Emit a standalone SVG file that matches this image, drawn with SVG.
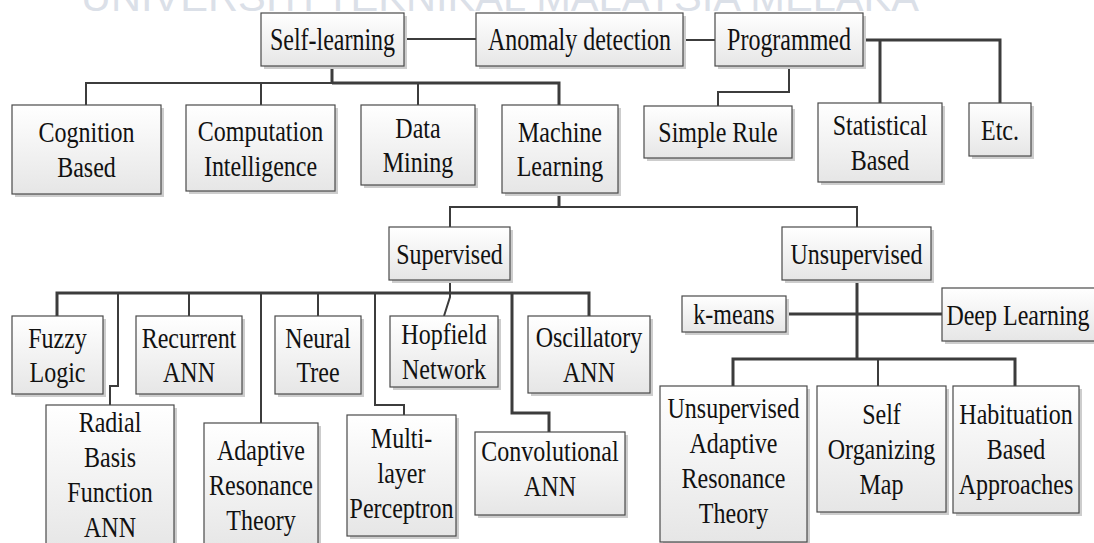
<svg xmlns="http://www.w3.org/2000/svg" width="1094" height="543" viewBox="0 0 1094 543">
<defs>
<linearGradient id="g" x1="0" y1="0" x2="0" y2="1">
<stop offset="0" stop-color="#ffffff"/>
<stop offset="1" stop-color="#e6e6e6"/>
</linearGradient>
</defs>
<style>
.b{fill:url(#g);stroke:#4a4a4a;stroke-width:1.2}
.s{fill:#cdcdcd}
.t{font-family:"Liberation Serif","Times New Roman",serif;font-size:30px;text-anchor:middle;fill:#111}
.h{font-size:32px}
.c{fill:none;stroke:#3c3c3c;stroke-width:2;stroke-linejoin:miter}
.k{fill:none;stroke:#3c3c3c;stroke-width:3;stroke-linejoin:miter}
.w{font-family:"Liberation Sans",Arial,sans-serif;font-size:40px;fill:#dbe0e8}
</style>
<rect width="1094" height="543" fill="#ffffff"/>
<text class="w" x="81" y="11" textLength="838" lengthAdjust="spacingAndGlyphs">UNIVERSITI TEKNIKAL MALAYSIA MELAKA</text>

<g id="connectors">
<path class="c" d="M404,39 H476"/>
<path class="c" d="M683,40 H715"/>
<path class="k" d="M863,40 H1000 V103"/>
<path class="k" d="M880,40 V103"/>
<path class="c" d="M789,66 V92 H718 V106"/>
<path class="k" d="M332,66 V83"/>
<path class="c" d="M86,105 V83 H332"/>
<path class="k" d="M332,83 H559 V105"/>
<path class="c" d="M261,83 V105"/>
<path class="c" d="M418,83 V105"/>
<path class="k" d="M559,193 V207"/>
<path class="c" d="M450,227 V207 H857 V227"/>
<path class="c" d="M450,280 V293"/>
<path class="k" d="M57,316 V293 H589 V316"/>
<path class="c" d="M189,293 V316"/>
<path class="c" d="M318,293 V316"/>
<path class="c" d="M118,293 V386 H110 V405"/>
<path class="c" d="M261,293 V423"/>
<path class="c" d="M375,293 V405 H404 V415"/>
<path class="c" d="M450,293 V297 L444,316"/>
<path class="k" d="M512,293 V413 H549 V432"/>
<path class="k" d="M857,280 V359"/>
<path class="k" d="M733,386 V359 H1015 V386"/>
<path class="c" d="M878,359 V386"/>
<path class="k" d="M786,314 H942"/>
</g>

<g id="self_learning"><rect class="s" x="264" y="16" width="143" height="53"/><rect class="b" x="261" y="13" width="143" height="53"/><text class="t h" transform="translate(332.5,50) scale(0.75,1)">Self-learning</text></g>
<g id="anomaly_detection"><rect class="s" x="479" y="16" width="207" height="53"/><rect class="b" x="476" y="13" width="207" height="53"/><text class="t h" transform="translate(579.5,50) scale(0.75,1)">Anomaly detection</text></g>
<g id="programmed"><rect class="s" x="718" y="16" width="148" height="53"/><rect class="b" x="715" y="13" width="148" height="53"/><text class="t h" transform="translate(789,50) scale(0.75,1)">Programmed</text></g>

<g id="cognition_based"><rect class="s" x="15" y="108" width="149" height="89"/><rect class="b" x="12" y="105" width="149" height="89"/><text class="t" transform="translate(86.5,142) scale(0.8,1)"><tspan x="0">Cognition</tspan><tspan x="0" dy="35">Based</tspan></text></g>
<g id="computation_intelligence"><rect class="s" x="189" y="108" width="149" height="86"/><rect class="b" x="186" y="105" width="149" height="86"/><text class="t" transform="translate(260.5,141) scale(0.8,1)"><tspan x="0">Computation</tspan><tspan x="0" dy="35">Intelligence</tspan></text></g>
<g id="data_mining"><rect class="s" x="364" y="108" width="114" height="80"/><rect class="b" x="361" y="105" width="114" height="80"/><text class="t" transform="translate(418,137.5) scale(0.8,1)"><tspan x="0">Data</tspan><tspan x="0" dy="35">Mining</tspan></text></g>
<g id="machine_learning"><rect class="s" x="505" y="108" width="116" height="88"/><rect class="b" x="502" y="105" width="116" height="88"/><text class="t" transform="translate(560,141.5) scale(0.8,1)"><tspan x="0">Machine</tspan><tspan x="0" dy="35">Learning</tspan></text></g>
<g id="simple_rule"><rect class="s" x="647" y="109" width="148" height="52"/><rect class="b" x="644" y="106" width="148" height="52"/><text class="t" transform="translate(718,142) scale(0.8,1)">Simple Rule</text></g>
<g id="statistical_based"><rect class="s" x="821" y="106" width="124" height="79"/><rect class="b" x="818" y="103" width="124" height="79"/><text class="t" transform="translate(880,135) scale(0.8,1)"><tspan x="0">Statistical</tspan><tspan x="0" dy="35">Based</tspan></text></g>
<g id="etc"><rect class="s" x="972" y="106" width="62" height="53"/><rect class="b" x="969" y="103" width="62" height="53"/><text class="t" transform="translate(1000,139.5) scale(0.8,1)">Etc.</text></g>

<g id="supervised"><rect class="s" x="392" y="230" width="121" height="53"/><rect class="b" x="389" y="227" width="121" height="53"/><text class="t" transform="translate(449.5,263.5) scale(0.8,1)">Supervised</text></g>
<g id="unsupervised"><rect class="s" x="785" y="230" width="149" height="53"/><rect class="b" x="782" y="227" width="149" height="53"/><text class="t" transform="translate(856.5,263.5) scale(0.8,1)">Unsupervised</text></g>

<g id="fuzzy_logic"><rect class="s" x="15" y="319" width="91" height="78"/><rect class="b" x="12" y="316" width="91" height="78"/><text class="t" transform="translate(57.5,347.5) scale(0.8,1)"><tspan x="0">Fuzzy</tspan><tspan x="0" dy="35">Logic</tspan></text></g>
<g id="recurrent_ann"><rect class="s" x="139" y="319" width="106" height="78"/><rect class="b" x="136" y="316" width="106" height="78"/><text class="t" transform="translate(189,347.5) scale(0.8,1)"><tspan x="0">Recurrent</tspan><tspan x="0" dy="35">ANN</tspan></text></g>
<g id="neural_tree"><rect class="s" x="278" y="319" width="86" height="78"/><rect class="b" x="275" y="316" width="86" height="78"/><text class="t" transform="translate(318,347.5) scale(0.8,1)"><tspan x="0">Neural</tspan><tspan x="0" dy="35">Tree</tspan></text></g>
<g id="hopfield_network"><rect class="s" x="393" y="319" width="108" height="71"/><rect class="b" x="390" y="316" width="108" height="71"/><text class="t" transform="translate(444,344) scale(0.8,1)"><tspan x="0">Hopfield</tspan><tspan x="0" dy="35">Network</tspan></text></g>
<g id="oscillatory_ann"><rect class="s" x="531" y="319" width="122" height="77"/><rect class="b" x="528" y="316" width="122" height="77"/><text class="t" transform="translate(589,347) scale(0.8,1)"><tspan x="0">Oscillatory</tspan><tspan x="0" dy="35">ANN</tspan></text></g>

<g id="radial_basis_function_ann"><rect class="s" x="49" y="408" width="128" height="145"/><rect class="b" x="46" y="405" width="128" height="145"/><text class="t" transform="translate(110,432) scale(0.8,1)"><tspan x="0">Radial</tspan><tspan x="0" dy="35">Basis</tspan><tspan x="0" dy="35">Function</tspan><tspan x="0" dy="35">ANN</tspan></text></g>
<g id="adaptive_resonance_theory"><rect class="s" x="207" y="426" width="114" height="127"/><rect class="b" x="204" y="423" width="114" height="127"/><text class="t" transform="translate(261,460) scale(0.8,1)"><tspan x="0">Adaptive</tspan><tspan x="0" dy="35">Resonance</tspan><tspan x="0" dy="35">Theory</tspan></text></g>
<g id="multilayer_perceptron"><rect class="s" x="350" y="418" width="109" height="121"/><rect class="b" x="347" y="415" width="109" height="121"/><text class="t" transform="translate(401.5,448) scale(0.8,1)"><tspan x="0">Multi-</tspan><tspan x="0" dy="35">layer</tspan><tspan x="0" dy="35">Perceptron</tspan></text></g>
<g id="convolutional_ann"><rect class="s" x="478" y="435" width="150" height="83"/><rect class="b" x="475" y="432" width="150" height="83"/><text class="t" transform="translate(550,461) scale(0.8,1)"><tspan x="0">Convolutional</tspan><tspan x="0" dy="35">ANN</tspan></text></g>

<g id="k_means"><rect class="s" x="685" y="299" width="104" height="36"/><rect class="b" x="682" y="296" width="104" height="36"/><text class="t" transform="translate(734,324) scale(0.8,1)">k-means</text></g>
<g id="deep_learning"><rect class="s" x="945" y="291" width="160" height="53"/><rect class="b" x="942" y="288" width="160" height="53"/><text class="t" transform="translate(1018,324.5) scale(0.8,1)">Deep Learning</text></g>

<g id="unsupervised_adaptive_resonance_theory"><rect class="s" x="663" y="389" width="147" height="156"/><rect class="b" x="660" y="386" width="147" height="156"/><text class="t" transform="translate(733.5,418) scale(0.8,1)"><tspan x="0">Unsupervised</tspan><tspan x="0" dy="35">Adaptive</tspan><tspan x="0" dy="35">Resonance</tspan><tspan x="0" dy="35">Theory</tspan></text></g>
<g id="self_organizing_map"><rect class="s" x="820" y="389" width="129" height="126"/><rect class="b" x="817" y="386" width="129" height="126"/><text class="t" transform="translate(881.5,424) scale(0.8,1)"><tspan x="0">Self</tspan><tspan x="0" dy="35">Organizing</tspan><tspan x="0" dy="35">Map</tspan></text></g>
<g id="habituation_based_approaches"><rect class="s" x="956" y="389" width="126" height="127"/><rect class="b" x="953" y="386" width="126" height="127"/><text class="t" transform="translate(1016,424) scale(0.8,1)"><tspan x="0">Habituation</tspan><tspan x="0" dy="35">Based</tspan><tspan x="0" dy="35">Approaches</tspan></text></g>
</svg>
